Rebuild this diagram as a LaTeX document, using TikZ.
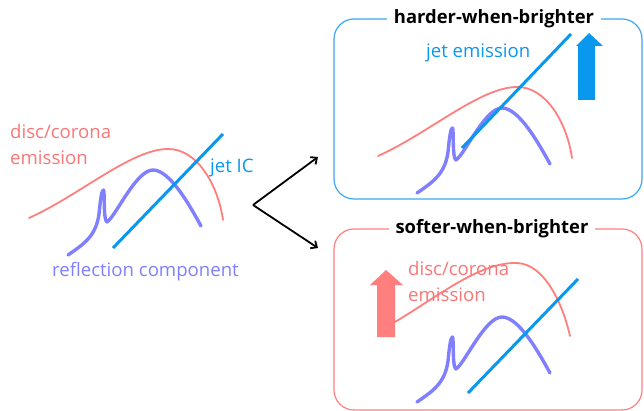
\documentclass[tikz,border=0pt]{standalone}
\usepackage{fontspec}
\setmainfont{Open Sans}
\usetikzlibrary{arrows.meta}
\definecolor{redc}{HTML}{FF7F7F}
\definecolor{redt}{HTML}{F77777}
\definecolor{purc}{HTML}{8080FF}
\definecolor{bluc}{HTML}{0A98EE}
\definecolor{blubox}{HTML}{3AA8F0}
\tikzset{
  redcurve/.style={draw=redc, line width=1.8pt, line cap=round},
  purcurve/.style={draw=purc, line width=3.4pt, line cap=round, line join=round},
  jetline/.style={draw=bluc, line width=3pt},
  lbl/.style={font=\fontsize{18.6}{26}\selectfont, inner sep=0pt, align=left},
  ttl/.style={font=\fontsize{18.4}{20}\selectfont\bfseries, fill=white, inner xsep=7pt, inner ysep=4pt},
  panel/.style={rounded corners=20pt, line width=1.2pt},
  purshape/.style={insert path={(68,255) .. controls (84,244) and (96,236) .. (99,214)
     .. controls (100,205) and (101,191) .. (103.5,190)
     .. controls (105,192) and (103,220) .. (107,222)
     .. controls (116,216) and (136,170) .. (153,170)
     .. controls (170,170) and (190,206) .. (201,226)}},
  redshape/.style={insert path={(29,218) .. controls (80,195) and (130,150) .. (167,149)
     .. controls (197,148) and (218,185) .. (223,220)}},
  ptr/.style={-{Straight Barb[length=5pt,width=9pt,line width=1.8pt]}, line width=1.8pt, black}
}
\begin{document}
\begin{tikzpicture}[x=1pt,y=-1pt]
\useasboundingbox (0,0) rectangle (644,411);
% left panel
\path[redcurve, redshape];
\path[purcurve, purshape];
\draw[jetline] (113,248) -- (223,134);
\node[lbl, text=redt, anchor=west] (disc) at (10,145) {disc/corona\\emission};
\node[lbl, text=bluc, anchor=west] (jetic) at (210,168) {jet IC};
\node[lbl, text=purc, anchor=west] (refl) at (52,272) {reflection component};
% arrows
\coordinate (fork) at (253,205);
\coordinate (up) at (318,157);
\coordinate (dn) at (318,248);
\draw[ptr] (fork) -- (up);
\draw[ptr] (fork) -- (dn);
% top panel
\draw[panel, draw=blubox] (334,19) rectangle (642,199);
\node[ttl] (hwb) at (494,19) {harder-when-brighter};
\begin{scope}[shift={(349,-62)}]
\path[redcurve, redshape];
\path[purcurve, purshape];
\end{scope}
\draw[jetline] (462,148) -- (571,34);
\node[lbl, text=bluc, anchor=west] (jetem) at (426,53) {jet emission};
\fill[bluc] (578,100) -- (578,46) -- (576,46) -- (589,33) -- (603,46) -- (595,46) -- (595,100) -- cycle;
% bottom panel
\draw[panel, draw=redc] (334,229) rectangle (642,410);
\node[ttl] (swb) at (492,229) {softer-when-brighter};
\fill[redc] (377,337) -- (377,285) -- (370,285) -- (386,270) -- (403,285) -- (395,285) -- (395,337) -- cycle;
\draw[redcurve] (395,322) .. controls (440,295) and (480,262) .. (517,263) .. controls (545,264) and (563,305) .. (570,336);
\node[lbl, text=redt, anchor=west] (disc2) at (408,282) {disc/corona\\emission};
\begin{scope}[shift={(349,147)}]
\path[purcurve, purshape];
\end{scope}
\draw[jetline] (468,393) -- (578,279);
\end{tikzpicture}
\end{document}
